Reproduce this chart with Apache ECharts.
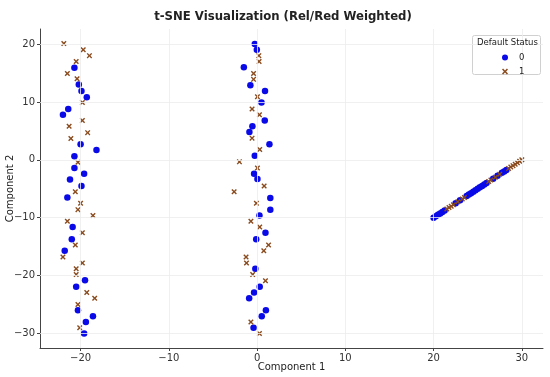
<!DOCTYPE html>
<html><head><meta charset="utf-8">
<script src="https://cdn.jsdelivr.net/npm/echarts@6/dist/echarts.min.js"></script>
<style>html,body{margin:0;padding:0;background:#fff}#c{width:550px;height:377px}</style>
</head><body><div id="c"></div>
<script>
// ---- data ----
const xTicks = [-20, -10, 0, 10, 20, 30];
const yTicks = [-30, -20, -10, 0, 10, 20];
const legendLabels = ['0', '1'];

const leftStatus0 = [[-20.7,15.9],[-20.2,13.0],[-19.9,11.9],[-19.3,10.8],[-21.4,8.8],[-22.0,7.8],[-20.0,2.7],[-18.2,1.7],[-20.7,0.6],[-20.7,-1.4],[-19.6,-2.4],[-21.2,-3.4],[-19.9,-4.5],[-21.5,-6.5],[-20.9,-11.6],[-21.0,-13.7],[-21.8,-15.7],[-19.5,-20.8],[-20.5,-21.9],[-20.3,-26.0],[-18.6,-27.0],[-19.4,-28.0],[-19.6,-30.0]];
const leftStatus1 = [[-21.9,20.1],[-19.7,19.0],[-19.0,18.0],[-20.5,17.0],[-21.5,14.9],[-20.4,14.0],[-19.8,9.9],[-19.8,6.8],[-21.3,5.8],[-19.2,4.7],[-21.1,3.7],[-20.3,-0.4],[-20.6,-5.5],[-20.0,-7.5],[-20.3,-8.6],[-18.6,-9.6],[-21.5,-10.6],[-19.8,-12.6],[-20.6,-14.7],[-22.0,-16.8],[-19.8,-17.8],[-20.5,-18.8],[-20.5,-19.8],[-19.3,-22.9],[-18.4,-23.9],[-20.3,-25.0],[-20.1,-29.0]];
const midStatus0 = [[-0.26,20.0],[-0.03,19.0],[-1.5,16.0],[-0.76,12.9],[0.9,11.9],[0.5,9.9],[0.87,6.8],[-0.53,5.8],[-0.87,4.8],[1.4,2.7],[-0.26,0.7],[-0.34,-2.4],[0.04,-3.3],[1.5,-6.6],[1.5,-8.6],[0.27,-9.6],[0.95,-12.6],[-0.1,-13.7],[-0.2,-18.8],[0.3,-21.9],[-0.34,-22.9],[-0.9,-23.9],[1.0,-26.0],[0.53,-27.0],[-0.4,-29.0]];
const midStatus1 = [[0.2,18.0],[0.23,17.0],[-0.4,14.9],[-0.4,13.9],[0.04,10.9],[-0.57,8.8],[0.27,7.8],[-0.57,3.75],[0.3,1.8],[-2.0,-0.35],[0.04,-1.4],[0.8,-4.5],[-2.6,-5.5],[-0.08,-7.5],[-0.7,-10.6],[0.3,-11.6],[1.3,-14.7],[0.76,-15.7],[-1.25,-16.8],[-1.2,-17.8],[-0.5,-19.8],[0.95,-20.9],[-0.7,-28.0],[0.27,-30.0]];
const diagStatus0 = [[20.0,-10.0],[20.25,-9.75],[20.5,-9.5],[20.75,-9.25],[21.0,-9.0],[21.25,-8.75],[22.5,-7.5],[23.0,-7.0],[23.75,-6.25],[24.0,-6.0],[24.25,-5.75],[24.5,-5.5],[24.75,-5.25],[25.0,-5.0],[25.25,-4.75],[25.5,-4.5],[25.75,-4.25],[26.0,-4.0],[26.75,-3.25],[27.25,-2.75],[27.75,-2.25],[28.0,-2.0],[28.25,-1.75]];
const diagStatus1 = [[21.5,-8.5],[21.75,-8.25],[22.0,-8.0],[22.25,-7.75],[22.75,-7.25],[23.25,-6.75],[23.5,-6.5],[26.25,-3.75],[26.5,-3.5],[27.0,-3.0],[27.5,-2.5],[28.5,-1.5],[28.75,-1.25],[29.0,-1.0],[29.25,-0.75],[29.5,-0.5],[29.75,-0.25],[30.0,0.0]];

const status0 = leftStatus0.concat(midStatus0, diagStatus0);
const status1 = leftStatus1.concat(midStatus1, diagStatus1);

// ---- chart ----
const FONT = 'DejaVu Sans';
const X_PATH = 'path://M1.8,0 L5,3.2 L8.2,0 L10,1.8 L6.8,5 L10,8.2 L8.2,10 L5,6.8 L1.8,10 L0,8.2 L3.2,5 L0,1.8 Z';
const chart = echarts.init(document.getElementById('c'), null, {renderer: 'canvas'});
const gridLine = {color: '#ececec', width: 0.8, type: 'solid'};
const fmt = v => (v < 0 ? '\u2212' + Math.abs(v) : String(v));
const axisCommon = {
  axisLine: {show: true, onZero: false, lineStyle: {color: '#444', width: 1}},
  axisTick: {show: true, inside: false, length: 3, lineStyle: {color: '#444'}},
  splitLine: {show: false},
  axisLabel: {color: '#333', fontSize: 10, fontFamily: FONT},
  nameTextStyle: {color: '#222', fontSize: 10, fontFamily: FONT},
  nameMoveOverlap: false
};
chart.setOption({
  animation: false,
  backgroundColor: '#fff',
  title: {
    text: 't-SNE Visualization (Rel/Red Weighted)',
    left: 278, top: 6, textAlign: 'center',
    textStyle: {fontFamily: FONT, fontWeight: 'bold', fontSize: 11.7, color: '#222'}
  },
  grid: {left: 40, right: 7, top: 29, bottom: 29, containLabel: false, outerBoundsMode: 'none'},
  xAxis: Object.assign({}, axisCommon, {
    type: 'value', min: -24.6, max: 32.4,
    name: 'Component 1', nameLocation: 'middle', nameGap: 14,
    axisTick: Object.assign({}, axisCommon.axisTick, {customValues: xTicks}),
    axisLabel: Object.assign({}, axisCommon.axisLabel, {customValues: xTicks, margin: 5, formatter: fmt})
  }),
  yAxis: Object.assign({}, axisCommon, {
    type: 'value', min: -32.5, max: 22.6,
    name: 'Component 2', nameLocation: 'middle', nameGap: 25, nameRotate: 90,
    axisTick: Object.assign({}, axisCommon.axisTick, {customValues: yTicks}),
    axisLabel: Object.assign({}, axisCommon.axisLabel, {customValues: yTicks, margin: 5, formatter: fmt})
  }),
  legend: {
    orient: 'vertical', left: 497, top: 48, itemWidth: 6, itemHeight: 6, itemGap: 5,
    textStyle: {fontFamily: FONT, fontSize: 8.5, color: '#222', padding: [0, 0, 0, 6]},
    data: [{name: legendLabels[0], icon: 'circle'}, {name: legendLabels[1], icon: X_PATH}],
    z: 6
  },
  graphic: [
    {type: 'rect', left: 472, top: 35, z: 5, shape: {width: 68, height: 39, r: 2},
     style: {fill: '#fff', stroke: '#d0d0d0', lineWidth: 1}},
    {type: 'text', left: 477, top: 38, z: 6,
     style: {text: 'Default Status', font: '8.5px "DejaVu Sans"', fill: '#222'}}
  ],
  series: [
    {type: 'scatter', name: '__grid', data: [], silent: true,
     markLine: {silent: true, symbol: 'none', label: {show: false}, lineStyle: gridLine, animation: false,
       data: xTicks.map(v => ({xAxis: v})).concat(yTicks.map(v => ({yAxis: v})))}},
    {type: 'scatter', name: legendLabels[0], data: status0, symbol: 'circle', symbolSize: 6.5,
     itemStyle: {color: '#0a0ae8', opacity: 1}, z: 3},
    {type: 'scatter', name: legendLabels[1], data: status1, symbol: X_PATH, symbolSize: 5.5,
     itemStyle: {color: '#8a4b1e', opacity: 1}, z: 4}
  ]
});
</script></body></html>
